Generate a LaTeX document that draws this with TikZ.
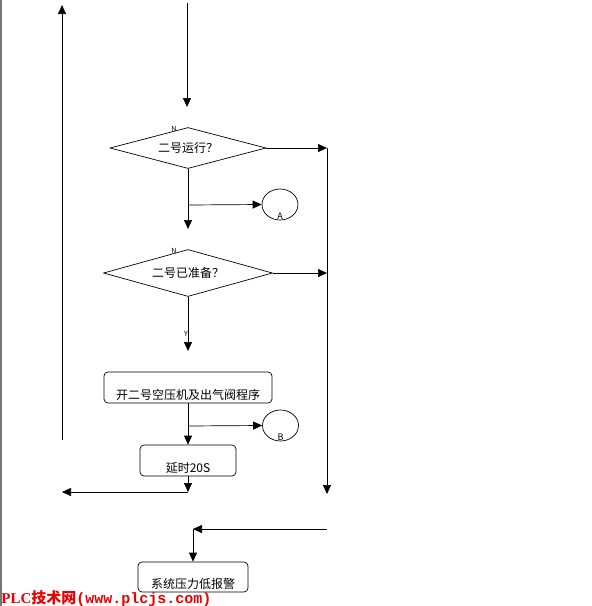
\documentclass[tikz,border=0pt]{standalone}
\usepackage{fontspec}
\newfontfamily\cjk{Noto Sans CJK SC}
\setmainfont{Liberation Serif}
\setmonofont{Liberation Mono}
\usetikzlibrary{positioning,arrows.meta,shapes.geometric}
\definecolor{wmred}{RGB}{235,0,0}
\definecolor{rimgray}{RGB}{120,120,120}

\begin{document}
\begin{tikzpicture}[x=1pt,y=-1pt,font=\cjk\fontsize{12}{14}\selectfont,
    >={Triangle[length=9pt,width=8pt]},line width=0.7pt,
    dec/.style={draw,diamond,aspect=3.8,inner sep=0pt},
    b/.style={draw,rounded corners=4pt,inner sep=2pt,text height=23pt,text depth=0pt},
    con/.style={draw,ellipse,minimum width=36pt,minimum height=31pt,inner sep=0pt},
    yn/.style={font=\cjk\fontsize{7}{8}\selectfont,inner sep=0pt}]
  \useasboundingbox (0,0) rectangle (592,606);
  \draw[rimgray,line width=1.5pt] (0.75,0) -- (0.75,606);

  % decisions
  \node[dec,minimum width=156pt,minimum height=41pt] (run) at (188,148) {二号运行？};
  \node[dec,minimum width=169pt,minimum height=47pt] (rdy) at (188,273) {二号已准备？};
  \node[yn] (n1) at (174,129) {N};
  \node[yn] (n2) at (174,251) {N};
  \node[yn] (y2) at (186,334) {Y};

  % steps
  \node[b,minimum width=168pt,minimum height=31pt] (start) at (188,387.5) {开二号空压机及出气阀程序};
  \node[b,minimum width=96pt,minimum height=31pt] (delay) at (188,460.5) {延时20S};
  \node[b,minimum width=110pt,minimum height=30pt] (alarm) at (193,577) {系统压力低报警};

  % connectors A, B
  \node[con] (A) at (280,204.5) {};
  \node[con] (B) at (280.5,425.5) {};
  \node[font=\cjk\fontsize{9}{10}\selectfont,anchor=south,inner sep=0.5pt] (Alab) at (A.south) {A};
  \node[font=\cjk\fontsize{9}{10}\selectfont,anchor=south,inner sep=0.5pt] (Blab) at (B.south) {B};

  % free ends
  \coordinate (up0) at (62,440);
  \coordinate (up1) at (62,5);
  \coordinate (in0) at (187,3);
  \coordinate (in1) at (187,107);
  \coordinate (r1) at (327,148);
  \coordinate (r2) at (327,273);
  \coordinate (r3) at (327,494);
  \coordinate (d1) at (188,229);
  \coordinate (jA) at (188,205);
  \coordinate (d2) at (188,351);
  \coordinate (jB) at (188,426);
  \coordinate (d3) at (188,492);
  \coordinate (back) at (62,492);
  \coordinate (lo0) at (327,529);
  \coordinate (lo1) at (193,529);

  \draw[->] (up0) -- (up1);
  \draw[->] (in0) -- (in1);
  \draw[->] (run.east) -- (r1);
  \draw[->] (rdy.east) -- (r2);
  \draw[->] (r1) -- (r3);
  \draw[->] (run.south) -- (d1);
  \draw[->] (jA) -- (A.west);
  \draw[->] (rdy.south) -- (d2);
  \draw[->] (start.south) -- (delay.north);
  \draw[->] (jB) -- (B.west);
  \draw[->] (delay.south) -- (d3);
  \draw[->] (d3) -- (back);
  \draw[->] (lo0) -- (lo1);
  \draw[->] (lo1) -- (alarm.north);

  % watermark
  \node[anchor=base west,inner sep=0pt,text=wmred,font=\bfseries\fontsize{15}{16}\selectfont] (wm) at (1,603)
    {PLC{\cjk 技术网}\ttfamily(www.plcjs.com)};
\end{tikzpicture}
\end{document}
